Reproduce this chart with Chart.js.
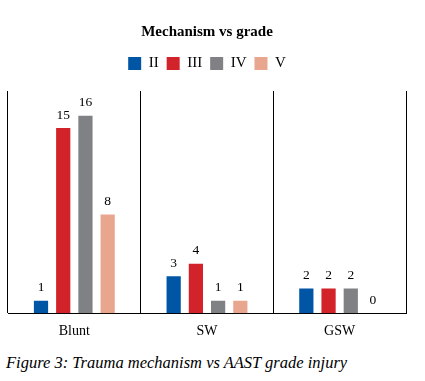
<!DOCTYPE html>
<html>
<head>
<meta charset="utf-8">
<script src="https://cdn.jsdelivr.net/npm/chart.js@4/dist/chart.umd.min.js"></script>
<style>
    body { margin: 0; background: #fff; }
    #wrap { position: relative; width: 425px; height: 381px; }
    #caption {
        position: absolute; left: 6px; top: 353px;
        font-family: 'Liberation Serif', serif; font-style: italic; font-size: 16.5px; color: #000;
        white-space: nowrap;
    }
</style>
</head>
<body>
<div id="wrap">
    <canvas id="mechChart" width="425" height="350"></canvas>
    <div id="caption">Figure 3: Trauma mechanism vs AAST grade injury</div>
</div>
<script>
// Mechanism vs AAST grade
const mechanisms = ['Blunt', 'SW', 'GSW'];
const gradeII = [1, 3, 2];
const gradeIII = [15, 4, 2];
const gradeIV = [16, 1, 2];
const gradeV = [8, 1, 0];

const serif = "'Liberation Serif', 'Times New Roman', serif";

// value labels above each bar
const barValues = {
    id: 'barValues',
    afterDatasetsDraw(chart) {
        const ctx = chart.ctx;
        ctx.save();
        ctx.font = '13.5px ' + serif;
        ctx.fillStyle = '#000';
        ctx.textAlign = 'center';
        ctx.textBaseline = 'middle';
        chart.data.datasets.forEach((ds, i) => {
            chart.getDatasetMeta(i).data.forEach((bar, j) => {
                ctx.fillText(ds.data[j], bar.x, bar.y - 13);
            });
        });
        ctx.restore();
    }
};

// a bit more room under the legend
const legendGap = {
    id: 'legendGap',
    beforeUpdate(chart) {
        const legend = chart.legend;
        if (legend && !legend._gapPatched) {
            const fit = legend.fit;
            legend.fit = function() {
                fit.call(this);
                this.height += 10;
            };
            legend._gapPatched = true;
        }
    }
};

function initMechChart() {
    const ctx = document.getElementById('mechChart');
    new Chart(ctx.getContext('2d'), {
        type: 'bar',
        data: {
            labels: mechanisms,
            datasets: [
                { label: 'II', data: gradeII, backgroundColor: '#0055A5' },
                { label: 'III', data: gradeIII, backgroundColor: '#D2232A' },
                { label: 'IV', data: gradeIV, backgroundColor: '#808184' },
                { label: 'V', data: gradeV, backgroundColor: '#E9A68F' }
            ]
        },
        options: {
            responsive: false,
            animation: false,
            categoryPercentage: 0.67,
            barPercentage: 0.64,
            layout: { padding: { left: 8, right: 19, top: 13, bottom: 0 } },
            plugins: {
                title: {
                    display: true,
                    text: 'Mechanism vs grade',
                    font: { family: serif, size: 15, weight: 'bold' },
                    color: '#000',
                    padding: { top: 10, bottom: 7 }
                },
                legend: {
                    position: 'top',
                    labels: {
                        font: { family: serif, size: 15 },
                        color: '#000',
                        boxWidth: 13,
                        boxHeight: 13,
                        padding: 8
                    }
                },
                tooltip: { enabled: false }
            },
            scales: {
                x: {
                    grid: { offset: true, color: '#000', lineWidth: 1, drawTicks: false },
                    border: { display: true, color: '#000', width: 1 },
                    ticks: { font: { family: serif, size: 14 }, color: '#000', padding: 10 }
                },
                y: {
                    display: false,
                    min: 0,
                    max: 18
                }
            }
        },
        plugins: [barValues, legendGap]
    });
}

document.addEventListener('DOMContentLoaded', initMechChart);
</script>
</body>
</html>
